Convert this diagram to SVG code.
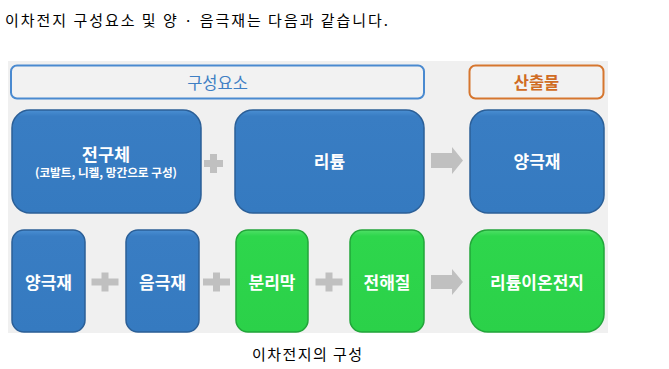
<svg xmlns="http://www.w3.org/2000/svg" width="669" height="369" viewBox="0 0 669 369">
<style>
  .t { font-family: "Noto Sans CJK KR", "Noto Sans", sans-serif; }
  .w { font-family: "Noto Sans CJK KR", "Noto Sans", sans-serif; fill: #ffffff; font-weight: bold; text-anchor: middle; }
  .blue { fill: url(#gb); stroke: #2b5f97; stroke-width: 1.5; }
  .green { fill: url(#gg); stroke: #22a53a; stroke-width: 1.5; }
  .op { fill: #c0c0c0; }
</style>
<defs>
  <linearGradient id="gb" x1="0" y1="0" x2="0" y2="1">
    <stop offset="0" stop-color="#4a8fd3"/>
    <stop offset="0.06" stop-color="#397dc3"/>
    <stop offset="1" stop-color="#357ac0"/>
  </linearGradient>
  <linearGradient id="gg" x1="0" y1="0" x2="0" y2="1">
    <stop offset="0" stop-color="#4fe067"/>
    <stop offset="0.06" stop-color="#2ed64c"/>
    <stop offset="1" stop-color="#2bd149"/>
  </linearGradient>
</defs>
<rect x="0" y="0" width="669" height="369" fill="#ffffff"/>
<text class="t" x="5" y="26" font-size="15" fill="#000000" textLength="383" lengthAdjust="spacing">이차전지 구성요소 및 양 · 음극재는 다음과 같습니다.</text>
<rect x="8" y="61" width="600" height="272" fill="#f0f0f0"/>

<g id="header-components">
  <rect x="11" y="65.5" width="413" height="33" rx="6" fill="#f2f2f2" stroke="#4a8ad0" stroke-width="2"/>
  <text class="t" x="217.5" y="89" font-size="16.5" fill="#3f7fc4" text-anchor="middle">구성요소</text>
</g>
<g id="header-output">
  <rect x="469.5" y="65.5" width="134" height="33" rx="6" fill="#f2f2f2" stroke="#d6762f" stroke-width="2"/>
  <text class="t" x="536.5" y="89" font-size="16.5" fill="#d06c24" text-anchor="middle" font-weight="bold">산출물</text>
</g>

<g id="precursor">
  <rect class="blue" x="12" y="110" width="189" height="103" rx="18"/>
  <text class="w" x="106" y="161" font-size="17.5">전구체</text>
  <text class="w" x="106" y="177" font-size="11.5" textLength="142" lengthAdjust="spacingAndGlyphs">(코발트, 니켈, 망간으로 구성)</text>
</g>
<g id="lithium">
  <rect class="blue" x="235" y="110" width="189" height="103" rx="18"/>
  <text class="w" x="329.5" y="168" font-size="17">리튬</text>
</g>
<g id="cathode-out">
  <rect class="blue" x="470" y="110" width="134" height="103" rx="18"/>
  <text class="w" x="537" y="168" font-size="17">양극재</text>
</g>

<g id="cathode">
  <rect class="blue" x="12" y="230" width="73" height="102" rx="12"/>
  <text class="w" x="48.5" y="288.5" font-size="17">양극재</text>
</g>
<g id="anode">
  <rect class="blue" x="126" y="230" width="73" height="102" rx="12"/>
  <text class="w" x="162.5" y="288.5" font-size="17">음극재</text>
</g>
<g id="separator">
  <rect class="green" x="236" y="230" width="72" height="102" rx="12"/>
  <text class="w" x="272" y="288.5" font-size="17">분리막</text>
</g>
<g id="electrolyte">
  <rect class="green" x="350" y="230" width="74" height="102" rx="12"/>
  <text class="w" x="387" y="288.5" font-size="17">전해질</text>
</g>
<g id="li-ion-battery">
  <rect class="green" x="470" y="230" width="134" height="102" rx="18"/>
  <text class="w" x="537" y="288.5" font-size="17">리튬이온전지</text>
</g>

<g id="connectors">
  <path class="op" d="M210 154h7v6h6v7h-6v6h-7v-6h-6v-7h6z"/>
  <path class="op" d="M452 147l11 13.5l-11 13.5v-6h-21v-15h21z"/>
  <path class="op" d="M101.5 272.5h7v6h10v7h-10v6h-7v-6h-10v-7h10z"/>
  <path class="op" d="M213 272.5h7v6h10v7h-10v6h-7v-6h-10v-7h10z"/>
  <path class="op" d="M325.5 272.5h7v6h10v7h-10v6h-7v-6h-10v-7h10z"/>
  <path class="op" d="M452 269l11 13l-11 13v-6h-21v-14h21z"/>
</g>

<text class="t" x="252" y="360" font-size="15" fill="#000000" textLength="110" lengthAdjust="spacing">이차전지의 구성</text>
</svg>
